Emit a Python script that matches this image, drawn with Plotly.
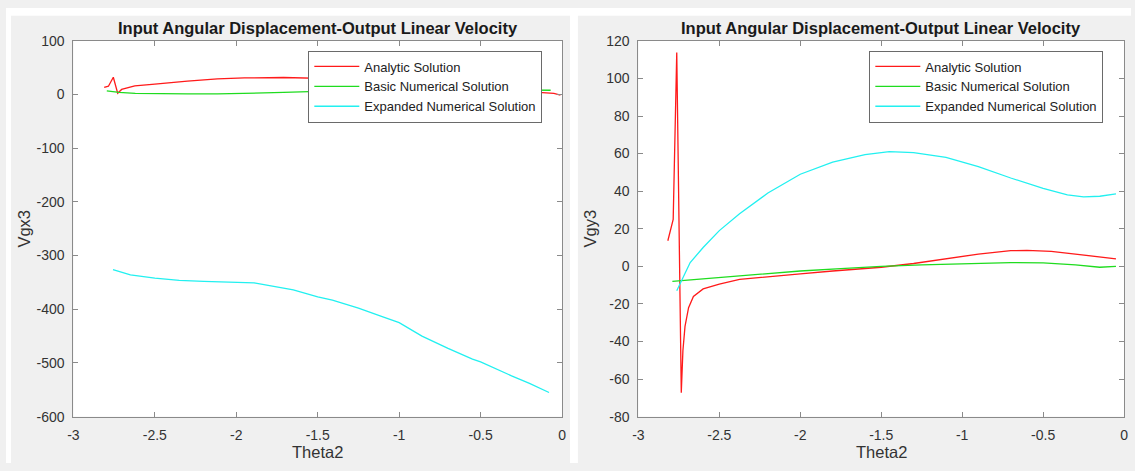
import plotly.graph_objects as go

W, H = 1135, 471

# ---------------- data ----------------
# Left panel: Vgx3 vs Theta2
lx_analytic = [-2.811, -2.785, -2.755, -2.728, -2.704, -2.623, -2.50, -2.42, -2.30, -2.116, -1.95, -1.71, -1.55,
               -1.35, -1.10, -0.85, -0.60, -0.35, -0.15, -0.05, -0.01]
ly_analytic = [13.1, 15.5, 32.2, 2.3, 9.5, 16.0, 19.5, 22.0, 25.0, 29.3, 31.0, 31.7, 31.0,
               29.0, 25.0, 20.0, 14.0, 8.0, 4.0, 2.0, -1.0]

lx_basic = [-2.795, -2.72, -2.62, -2.50, -2.30, -2.116, -1.90, -1.71, -1.50, -1.20, -0.90, -0.60, -0.30, -0.07]
ly_basic = [7.0, 4.0, 2.3, 1.6, 1.2, 1.1, 2.2, 4.0, 6.0, 7.5, 8.5, 9.0, 8.8, 8.0]

lx_expanded = [-2.757, -2.65, -2.50, -2.35, -2.20, -2.00, -1.89, -1.65, -1.50, -1.41, -1.25, -1.10,
               -1.00, -0.86, -0.70, -0.55, -0.50, -0.31, -0.20, -0.08]
ly_expanded = [-326, -336, -342, -346, -348, -350, -351, -364, -377, -383, -398, -414,
               -425, -450, -473, -493, -498, -524, -538, -555]

# Right panel: Vgy3 vs Theta2
rx_analytic = [-2.818, -2.79, -2.785, -2.763, -2.735, -2.725, -2.712, -2.69, -2.66, -2.60, -2.50, -2.375,
               -2.20, -2.00, -1.80, -1.50, -1.30, -1.10, -0.90, -0.70, -0.60, -0.45, -0.30, -0.15, -0.05]
ry_analytic = [13.6, 23.5, 25.0, 113.8, -67.3, -45.0, -32.0, -22.0, -16.0, -12.0, -9.5, -7.0,
               -5.5, -4.0, -2.5, -0.5, 1.5, 4.0, 6.5, 8.3, 8.5, 8.0, 6.5, 5.0, 4.0]

rx_basic = [-2.79, -2.50, -2.20, -2.00, -1.75, -1.50, -1.25, -1.00, -0.70, -0.50, -0.30, -0.15, -0.05]
ry_basic = [-8.0, -6.0, -4.0, -2.5, -1.2, 0.0, 0.8, 1.5, 2.0, 1.8, 0.8, -0.5, 0.0]

rx_expanded = [-2.763, -2.72, -2.68, -2.60, -2.50, -2.375, -2.20, -2.00, -1.80, -1.60, -1.45, -1.30,
               -1.10, -0.90, -0.70, -0.50, -0.35, -0.25, -0.15, -0.05]
ry_expanded = [-13.0, -5.0, 2.0, 10.0, 19.0, 28.0, 39.0, 49.0, 55.5, 59.5, 61.0, 60.5,
               58.0, 53.0, 47.0, 41.5, 38.0, 37.0, 37.3, 38.5]

x_ticks = [-3, -2.5, -2, -1.5, -1, -0.5, 0]
x_tick_labels = ["-3", "-2.5", "-2", "-1.5", "-1", "-0.5", "0"]
left_y_ticks = [100, 0, -100, -200, -300, -400, -500, -600]
left_y_tick_labels = ["100", "0", "-100", "-200", "-300", "-400", "-500", "-600"]
right_y_ticks = [120, 100, 80, 60, 40, 20, 0, -20, -40, -60, -80]
right_y_tick_labels = ["120", "100", "80", "60", "40", "20", "0", "-20", "-40", "-60", "-80"]

series_names = ["Analytic Solution", "Basic Numerical Solution", "Expanded Numerical Solution"]
series_colors = ["#ff1a1a", "#1fdc1f", "#22f0f0"]

title_text = "Input Angular Displacement-Output Linear Velocity"
x_title = "Theta2"
left_y_title = "Vgx3"
right_y_title = "Vgy3"

# ---------------- layout geometry (pixels) ----------------
L_AX = (68, 561)
R_AX = (638, 1128)
AX_TOP, AX_BOT = 34, 423


def px(x):
    return x / W


def py(y):
    return 1 - y / H


FONT = "Liberation Sans, Arial, sans-serif"
AXIS_GREY = "#8a8a8a"
TEXT_COL = "#333333"
FIG_GREY = "#f0f0f0"

fig = go.Figure()

left_data = [(lx_analytic, ly_analytic), (lx_basic, ly_basic), (lx_expanded, ly_expanded)]
right_data = [(rx_analytic, ry_analytic), (rx_basic, ry_basic), (rx_expanded, ry_expanded)]

for (xs, ys), name, col in zip(left_data, series_names, series_colors):
    fig.add_trace(go.Scatter(x=xs, y=ys, mode="lines", name=name, line=dict(color=col, width=1.3),
                             xaxis="x", yaxis="y", legend="legend"))
for (xs, ys), name, col in zip(right_data, series_names, series_colors):
    fig.add_trace(go.Scatter(x=xs, y=ys, mode="lines", name=name, line=dict(color=col, width=1.3),
                             xaxis="x2", yaxis="y2", legend="legend2"))

common_axis = dict(
    showline=True, linecolor=AXIS_GREY, linewidth=1, mirror="ticks",
    ticks="inside", ticklen=5, tickwidth=1, tickcolor=AXIS_GREY,
    showgrid=False, zeroline=False,
    tickfont=dict(family=FONT, size=14, color=TEXT_COL),
)
x_axis_extra = dict(ticklabelstandoff=6)
y_axis_extra = dict(ticklabelstandoff=5)

legend_common = dict(xanchor="left", yanchor="top", bgcolor="white",
                     bordercolor="#6a6a6a", borderwidth=1,
                     font=dict(family=FONT, size=13, color="#222222"),
                     itemwidth=45, tracegroupgap=0)

fig.update_layout(
    width=W, height=H,
    margin=dict(l=0, r=0, t=0, b=0),
    paper_bgcolor=FIG_GREY, plot_bgcolor="white",
    showlegend=True,
    xaxis=dict(domain=[px(L_AX[0]), px(L_AX[1])], range=[-3, 0], tickvals=x_ticks, ticktext=x_tick_labels,
               anchor="y", **common_axis, **x_axis_extra),
    yaxis=dict(domain=[py(AX_BOT), py(AX_TOP)], range=[-600, 100], tickvals=left_y_ticks,
               ticktext=left_y_tick_labels, anchor="x", **common_axis, **y_axis_extra),
    xaxis2=dict(domain=[px(R_AX[0]), px(R_AX[1])], range=[-3, 0], tickvals=x_ticks, ticktext=x_tick_labels,
                anchor="y2", **common_axis, **x_axis_extra),
    yaxis2=dict(domain=[py(AX_BOT), py(AX_TOP)], range=[-80, 120], tickvals=right_y_ticks,
                ticktext=right_y_tick_labels, anchor="x2", **common_axis, **y_axis_extra),
    legend=dict(x=px(305), y=py(44), **legend_common),
    legend2=dict(x=px(871), y=py(44), **legend_common),
)

# white strips around/between the two grey figure windows
for x0, x1, y0, y1 in [(0, 5, 0, H), (569, 577, 0, H), (0, W, 0, 8)]:
    fig.add_shape(type="rect", xref="paper", yref="paper", x0=px(x0), x1=px(x1), y0=py(y1), y1=py(y0),
                  fillcolor="white", line=dict(width=0), layer="below")

# titles and axis labels
for (a0, a1), ytitle, yx in [(L_AX, left_y_title, 18), (R_AX, right_y_title, 589)]:
    cx = (a0 + a1) / 2
    fig.add_annotation(text="<b>" + title_text + "</b>", x=px(cx), y=py(21), xref="paper", yref="paper",
                       showarrow=False, xanchor="center", yanchor="middle",
                       font=dict(family=FONT, size=16.5, color="#1a1a1a"))
    fig.add_annotation(text=x_title, x=px(cx), y=py(460), xref="paper", yref="paper",
                       showarrow=False, xanchor="center", yanchor="middle",
                       font=dict(family=FONT, size=16.5, color=TEXT_COL))
    fig.add_annotation(text=ytitle, x=px(yx), y=py((AX_TOP + AX_BOT) / 2), xref="paper", yref="paper",
                       showarrow=False, xanchor="center", yanchor="middle", textangle=-90,
                       font=dict(family=FONT, size=16.5, color=TEXT_COL))

fig.write_html("out.html")
